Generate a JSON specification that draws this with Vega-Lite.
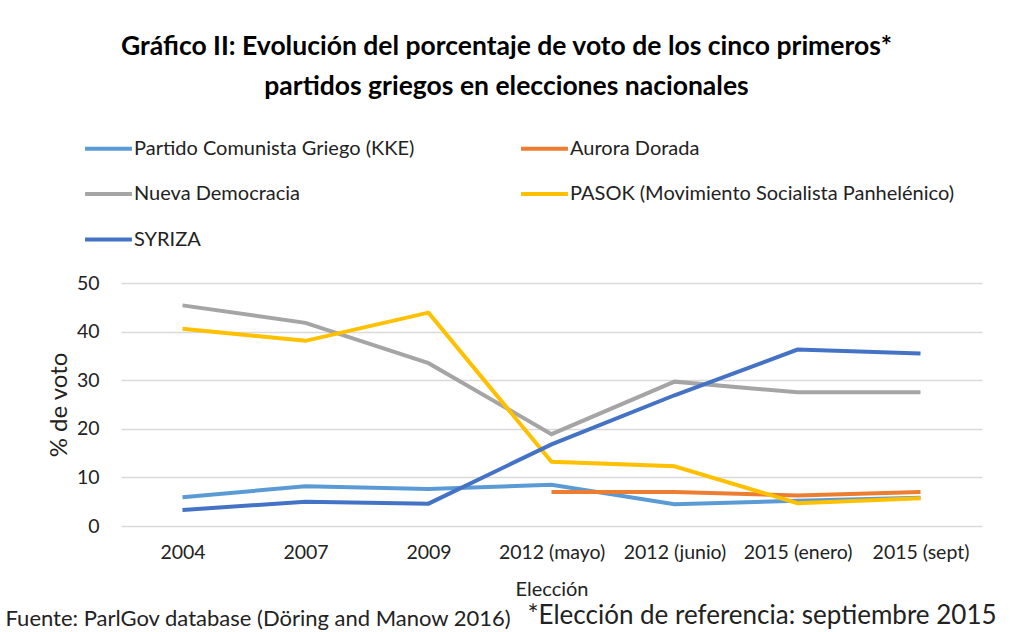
{
  "$schema": "https://vega.github.io/schema/vega-lite/v6.json",
  "width": 861,
  "height": 243,
  "autosize": {"type": "none"},
  "padding": {"left": 121, "right": 28, "top": 283, "bottom": 106},
  "background": "white",
  "title": {
    "text": ["Gráfico II: Evolución del porcentaje  de voto de los cinco primeros*", "partidos griegos en elecciones nacionales"],
    "font": "Lato",
    "fontSize": 26.5,
    "fontWeight": "bold",
    "color": "#000000",
    "lineHeight": 40,
    "anchor": "middle",
    "offset": 23,
    "dx": -45
  },
  "data": {
    "values": [
      {"eleccion": "2004", "partido": "Partido Comunista Griego (KKE)", "voto": 5.9},
      {"eleccion": "2007", "partido": "Partido Comunista Griego (KKE)", "voto": 8.2},
      {"eleccion": "2009", "partido": "Partido Comunista Griego (KKE)", "voto": 7.6},
      {"eleccion": "2012 (mayo)", "partido": "Partido Comunista Griego (KKE)", "voto": 8.5},
      {"eleccion": "2012 (junio)", "partido": "Partido Comunista Griego (KKE)", "voto": 4.5},
      {"eleccion": "2015 (enero)", "partido": "Partido Comunista Griego (KKE)", "voto": 5.2},
      {"eleccion": "2015 (sept)", "partido": "Partido Comunista Griego (KKE)", "voto": 5.8},
      {"eleccion": "2012 (mayo)", "partido": "Aurora Dorada", "voto": 7.0},
      {"eleccion": "2012 (junio)", "partido": "Aurora Dorada", "voto": 7.0},
      {"eleccion": "2015 (enero)", "partido": "Aurora Dorada", "voto": 6.3},
      {"eleccion": "2015 (sept)", "partido": "Aurora Dorada", "voto": 7.0},
      {"eleccion": "2004", "partido": "Nueva Democracia", "voto": 45.4},
      {"eleccion": "2007", "partido": "Nueva Democracia", "voto": 41.8},
      {"eleccion": "2009", "partido": "Nueva Democracia", "voto": 33.5},
      {"eleccion": "2012 (mayo)", "partido": "Nueva Democracia", "voto": 18.9},
      {"eleccion": "2012 (junio)", "partido": "Nueva Democracia", "voto": 29.7},
      {"eleccion": "2015 (enero)", "partido": "Nueva Democracia", "voto": 27.5},
      {"eleccion": "2015 (sept)", "partido": "Nueva Democracia", "voto": 27.5},
      {"eleccion": "2004", "partido": "PASOK (Movimiento Socialista Panhelénico)", "voto": 40.6},
      {"eleccion": "2007", "partido": "PASOK (Movimiento Socialista Panhelénico)", "voto": 38.1},
      {"eleccion": "2009", "partido": "PASOK (Movimiento Socialista Panhelénico)", "voto": 43.9},
      {"eleccion": "2012 (mayo)", "partido": "PASOK (Movimiento Socialista Panhelénico)", "voto": 13.2},
      {"eleccion": "2012 (junio)", "partido": "PASOK (Movimiento Socialista Panhelénico)", "voto": 12.3},
      {"eleccion": "2015 (enero)", "partido": "PASOK (Movimiento Socialista Panhelénico)", "voto": 4.7},
      {"eleccion": "2015 (sept)", "partido": "PASOK (Movimiento Socialista Panhelénico)", "voto": 5.7},
      {"eleccion": "2004", "partido": "SYRIZA", "voto": 3.3},
      {"eleccion": "2007", "partido": "SYRIZA", "voto": 5.0},
      {"eleccion": "2009", "partido": "SYRIZA", "voto": 4.6},
      {"eleccion": "2012 (mayo)", "partido": "SYRIZA", "voto": 16.8},
      {"eleccion": "2012 (junio)", "partido": "SYRIZA", "voto": 26.9},
      {"eleccion": "2015 (enero)", "partido": "SYRIZA", "voto": 36.3},
      {"eleccion": "2015 (sept)", "partido": "SYRIZA", "voto": 35.5}
    ]
  },
  "layer": [
    {
      "mark": {"type": "line", "strokeWidth": 4, "strokeCap": "butt", "strokeJoin": "miter"},
      "encoding": {
        "x": {
          "field": "eleccion",
          "type": "ordinal",
          "sort": ["2004", "2007", "2009", "2012 (mayo)", "2012 (junio)", "2015 (enero)", "2015 (sept)"],
          "scale": {"type": "point", "padding": 0.5},
          "axis": {
            "orient": "bottom",
            "title": "Elección",
            "titleFont": "Lato",
            "titleFontSize": 20,
            "titleFontWeight": "normal",
            "titleColor": "#222222",
            "titleBaseline": "middle",
            "titleY": 63,
            "labelFont": "Lato",
            "labelFontSize": 19.5,
            "labelColor": "#222222",
            "labelAngle": 0,
            "labelPadding": 17,
            "domain": false,
            "ticks": false,
            "grid": false
          }
        },
        "y": {
          "field": "voto",
          "type": "quantitative",
          "scale": {"domain": [0, 50]},
          "axis": {
            "title": "% de voto",
            "titleFont": "Lato",
            "titleFontSize": 24,
            "titleFontWeight": "normal",
            "titleColor": "#222222",
            "titlePadding": 5,
            "labelFont": "Lato",
            "labelFontSize": 19.5,
            "labelColor": "#222222",
            "labelPadding": 22,
            "values": [0, 10, 20, 30, 40, 50],
            "domain": false,
            "ticks": false,
            "grid": true,
            "gridColor": "#d9d9d9",
            "gridWidth": 1.5
          }
        },
        "color": {
          "field": "partido",
          "type": "nominal",
          "scale": {
            "domain": ["Partido Comunista Griego (KKE)", "Aurora Dorada", "Nueva Democracia", "PASOK (Movimiento Socialista Panhelénico)", "SYRIZA"],
            "range": ["#5B9BD5", "#ED7D31", "#A5A5A5", "#FFC000", "#4472C4"]
          },
          "legend": {
            "title": null,
            "orient": "none",
            "legendX": -38,
            "legendY": -160,
            "direction": "horizontal",
            "columns": 2,
            "columnPadding": 98,
            "rowPadding": 9.5,
            "symbolType": "stroke",
            "symbolSize": 2200,
            "symbolStrokeWidth": 4,
            "labelFont": "Lato",
            "labelFontSize": 20,
            "labelColor": "#222222",
            "labelOffset": 0,
            "labelLimit": 600
          }
        }
      }
    },
    {
      "mark": {"type": "point", "opacity": 0},
      "encoding": {
        "x": {
          "field": "eleccion",
          "type": "ordinal",
          "sort": ["2004", "2007", "2009", "2012 (mayo)", "2012 (junio)", "2015 (enero)", "2015 (sept)"],
          "scale": {"type": "point", "padding": 0.5},
          "axis": {
            "orient": "bottom",
            "title": "Fuente: ParlGov database (Döring and Manow 2016)",
            "titleFont": "Lato",
            "titleFontSize": 22,
            "titleFontWeight": "normal",
            "titleColor": "#222222",
            "titleAnchor": "start",
            "titleAlign": "left",
            "titleBaseline": "middle",
            "titleX": -116,
            "titleY": 92,
            "labels": false,
            "domain": false,
            "ticks": false,
            "grid": false
          }
        },
        "y": {"field": "voto", "type": "quantitative"}
      }
    },
    {
      "mark": {"type": "point", "opacity": 0},
      "encoding": {
        "x": {
          "field": "eleccion",
          "type": "ordinal",
          "sort": ["2004", "2007", "2009", "2012 (mayo)", "2012 (junio)", "2015 (enero)", "2015 (sept)"],
          "scale": {"type": "point", "padding": 0.5},
          "axis": {
            "orient": "bottom",
            "title": "*Elección de referencia: septiembre 2015",
            "titleFont": "Lato",
            "titleFontSize": 26,
            "titleFontWeight": "normal",
            "titleColor": "#222222",
            "titleAnchor": "start",
            "titleAlign": "left",
            "titleBaseline": "middle",
            "titleX": 406,
            "titleY": 89,
            "labels": false,
            "domain": false,
            "ticks": false,
            "grid": false
          }
        },
        "y": {"field": "voto", "type": "quantitative"}
      }
    }
  ],
  "resolve": {"scale": {"x": "independent"}, "axis": {"x": "independent"}},
  "config": {"view": {"stroke": null}}
}
